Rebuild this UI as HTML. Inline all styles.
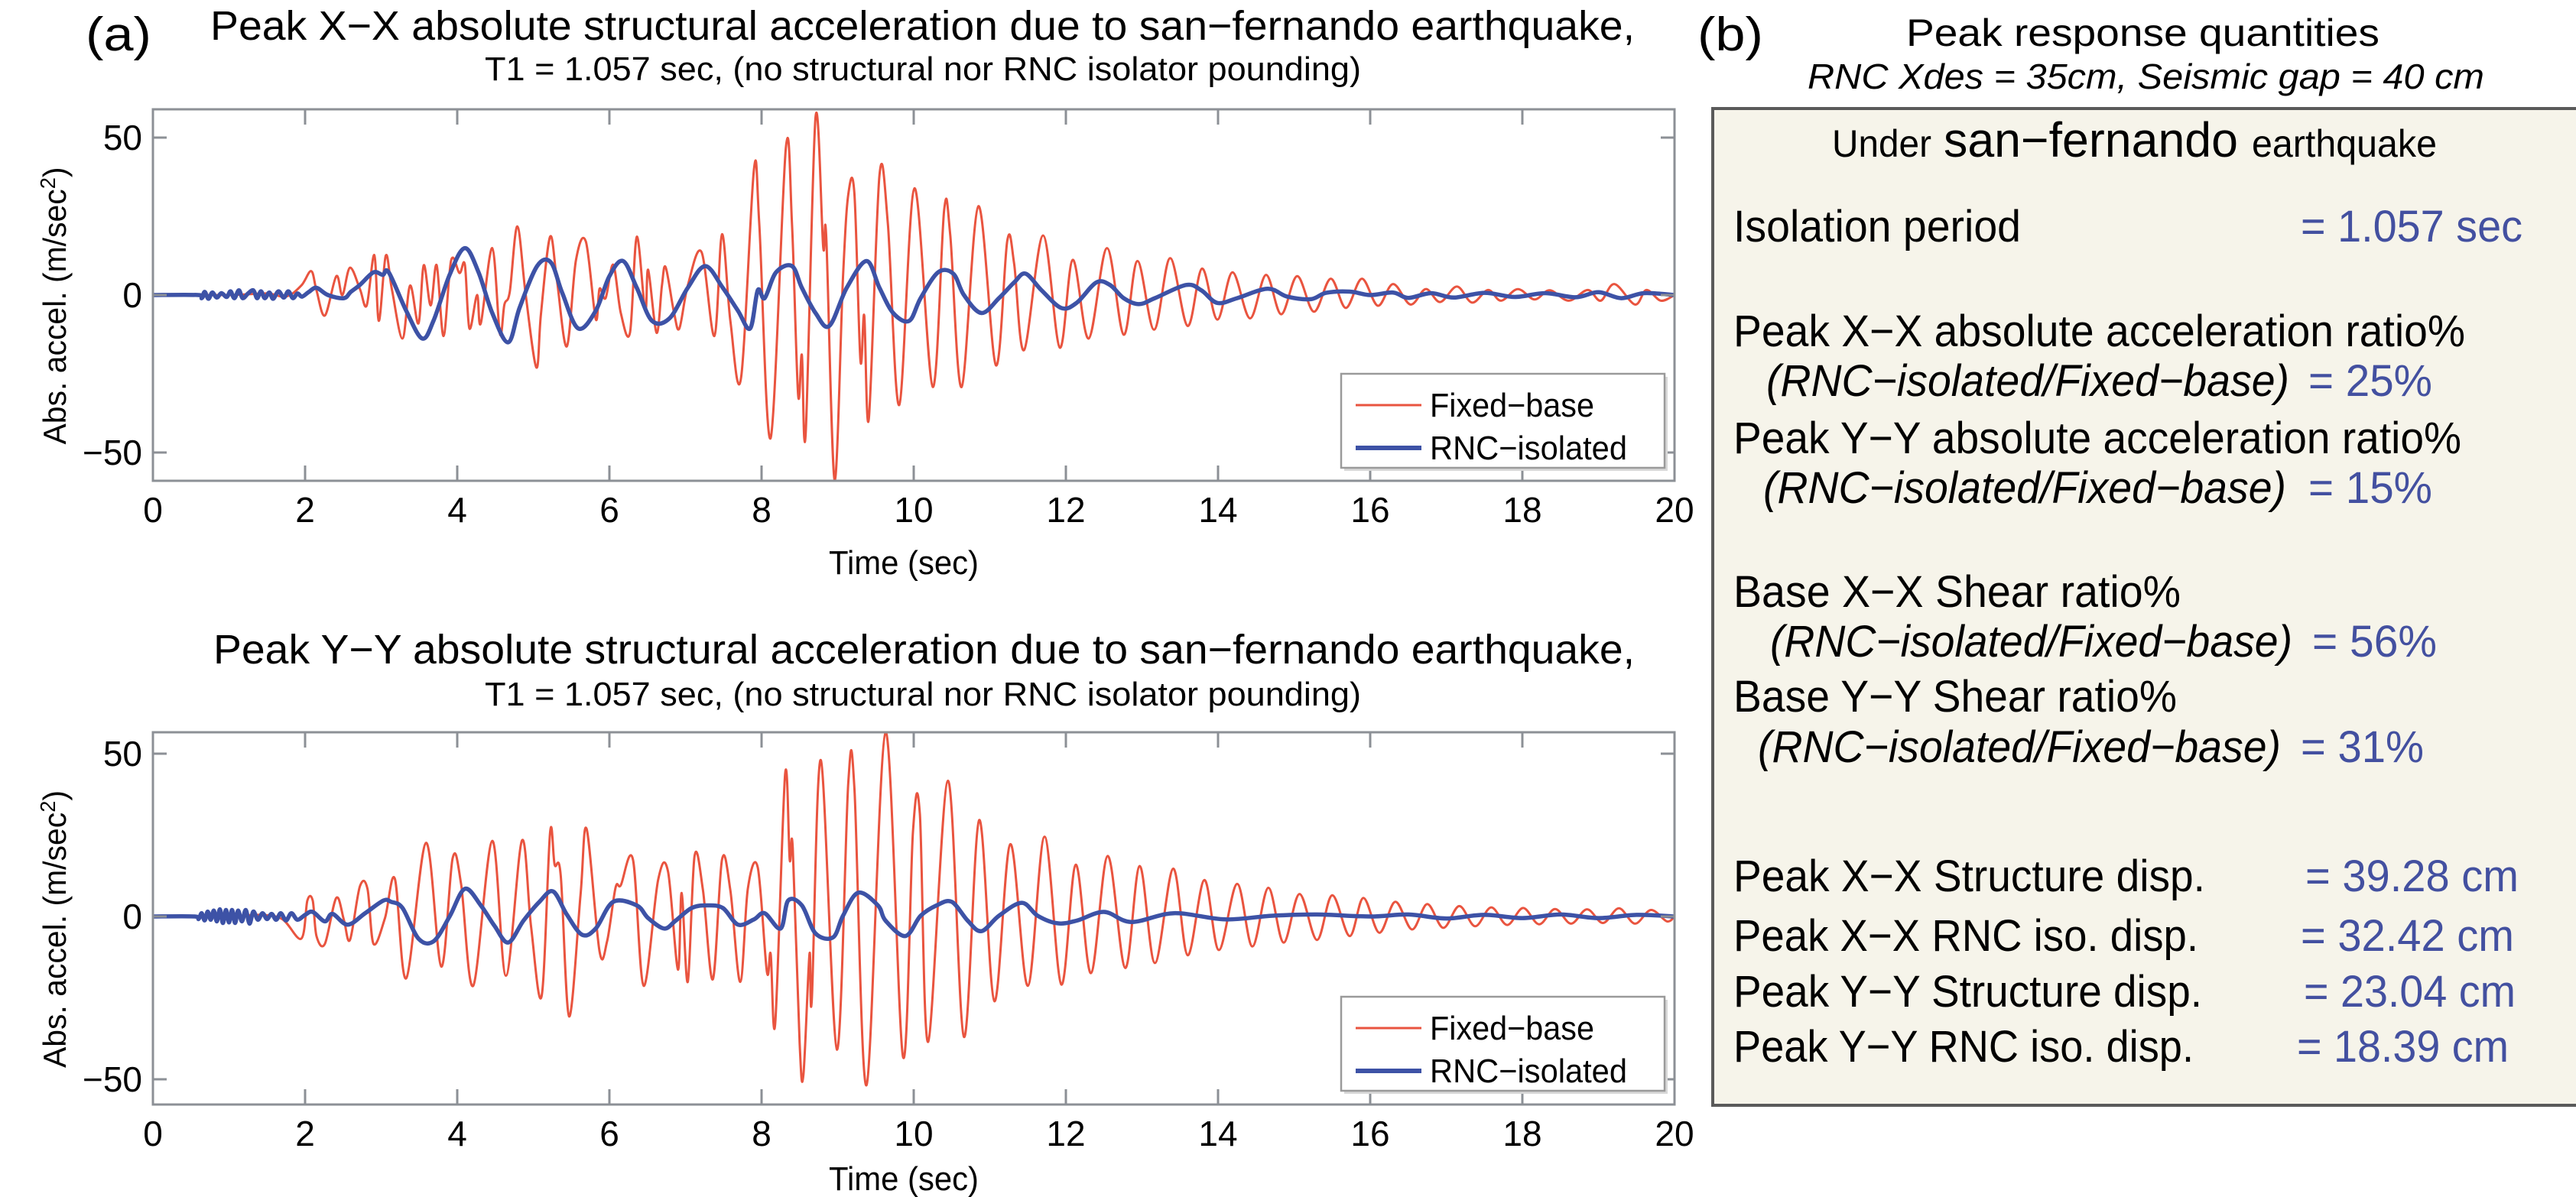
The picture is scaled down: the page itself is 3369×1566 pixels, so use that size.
<!DOCTYPE html>
<html><head><meta charset="utf-8"><style>
html,body{margin:0;padding:0;background:#fff;}
svg{display:block;font-family:"Liberation Sans",Arial,sans-serif;}
</style></head><body>
<svg id="fig" width="3369" height="1566" viewBox="0 0 3369 1566" xmlns="http://www.w3.org/2000/svg">
<defs>
<clipPath id="clipTop"><rect x="200" y="143" width="1990" height="486"/></clipPath>
<clipPath id="clipBot"><rect x="200" y="958" width="1990" height="487"/></clipPath>
</defs>
<rect width="3369" height="1566" fill="#fff"/>
<!-- Panel (a) titles -->
<text x="112" y="66" font-size="62" textLength="86" lengthAdjust="spacingAndGlyphs">(a)</text>
<text x="275" y="52" font-size="54" textLength="1863" lengthAdjust="spacingAndGlyphs">Peak X−X absolute structural acceleration due to san−fernando earthquake,</text>
<text x="634" y="105" font-size="44" textLength="1146" lengthAdjust="spacingAndGlyphs">T1 = 1.057 sec, (no structural nor RNC isolator pounding)</text>
<text x="279" y="868" font-size="54" textLength="1859" lengthAdjust="spacingAndGlyphs">Peak Y−Y absolute structural acceleration due to san−fernando earthquake,</text>
<text x="634" y="923" font-size="44" textLength="1146" lengthAdjust="spacingAndGlyphs">T1 = 1.057 sec, (no structural nor RNC isolator pounding)</text>
<g id="topChart"></g>
<g id="botChart"></g>

<!-- Panel (b) -->
<text x="2220" y="66" font-size="62" textLength="86" lengthAdjust="spacingAndGlyphs">(b)</text>
<text x="2493" y="60" font-size="50" textLength="619" lengthAdjust="spacingAndGlyphs">Peak response quantities</text>
<text x="2364" y="116" font-size="46" font-style="italic" textLength="885" lengthAdjust="spacingAndGlyphs">RNC Xdes = 35cm, Seismic gap = 40 cm</text>
<g>
<rect x="2240" y="142" width="1140" height="1304" fill="#f6f4ea" stroke="#5a5a5a" stroke-width="4"/>
<text x="2396" y="205" font-size="50" textLength="130" lengthAdjust="spacingAndGlyphs">Under</text>
<text x="2542" y="205" font-size="64" textLength="385" lengthAdjust="spacingAndGlyphs">san−fernando</text>
<text x="2945" y="205" font-size="50" textLength="242" lengthAdjust="spacingAndGlyphs">earthquake</text>
<g font-size="58">
<text x="2267" y="316" textLength="376" lengthAdjust="spacingAndGlyphs">Isolation period</text>
<text x="3009" y="316" fill="#4350a0" textLength="290" lengthAdjust="spacingAndGlyphs">= 1.057 sec</text>
<text x="2267" y="453" textLength="957" lengthAdjust="spacingAndGlyphs">Peak X−X absolute acceleration ratio%</text>
<text x="2310" y="518" font-style="italic" textLength="684" lengthAdjust="spacingAndGlyphs">(RNC−isolated/Fixed−base)</text>
<text x="3019" y="518" fill="#4350a0" textLength="162" lengthAdjust="spacingAndGlyphs">= 25%</text>
<text x="2267" y="593" textLength="952" lengthAdjust="spacingAndGlyphs">Peak Y−Y absolute acceleration ratio%</text>
<text x="2306" y="658" font-style="italic" textLength="684" lengthAdjust="spacingAndGlyphs">(RNC−isolated/Fixed−base)</text>
<text x="3019" y="658" fill="#4350a0" textLength="162" lengthAdjust="spacingAndGlyphs">= 15%</text>
<text x="2267" y="794" textLength="585" lengthAdjust="spacingAndGlyphs">Base X−X Shear ratio%</text>
<text x="2315" y="859" font-style="italic" textLength="683" lengthAdjust="spacingAndGlyphs">(RNC−isolated/Fixed−base)</text>
<text x="3024" y="859" fill="#4350a0" textLength="163" lengthAdjust="spacingAndGlyphs">= 56%</text>
<text x="2267" y="931" textLength="580" lengthAdjust="spacingAndGlyphs">Base Y−Y Shear ratio%</text>
<text x="2299" y="997" font-style="italic" textLength="684" lengthAdjust="spacingAndGlyphs">(RNC−isolated/Fixed−base)</text>
<text x="3009" y="997" fill="#4350a0" textLength="161" lengthAdjust="spacingAndGlyphs">= 31%</text>
<text x="2267" y="1166" textLength="617" lengthAdjust="spacingAndGlyphs">Peak X−X Structure disp.</text>
<text x="3015" y="1166" fill="#4350a0" textLength="279" lengthAdjust="spacingAndGlyphs">= 39.28 cm</text>
<text x="2267" y="1244" textLength="608" lengthAdjust="spacingAndGlyphs">Peak X−X RNC iso. disp.</text>
<text x="3009" y="1244" fill="#4350a0" textLength="279" lengthAdjust="spacingAndGlyphs">= 32.42 cm</text>
<text x="2267" y="1317" textLength="613" lengthAdjust="spacingAndGlyphs">Peak Y−Y Structure disp.</text>
<text x="3013" y="1317" fill="#4350a0" textLength="277" lengthAdjust="spacingAndGlyphs">= 23.04 cm</text>
<text x="2267" y="1389" textLength="602" lengthAdjust="spacingAndGlyphs">Peak Y−Y RNC iso. disp.</text>
<text x="3004" y="1389" fill="#4350a0" textLength="277" lengthAdjust="spacingAndGlyphs">= 18.39 cm</text>
</g>
</g>
</svg>
<script>
// ---- data (time in sec, acceleration in m/sec^2) ----
const xTicks = [0,2,4,6,8,10,12,14,16,18,20];
const yTicks = [-50,0,50];
const xTickLabels = ["0","2","4","6","8","10","12","14","16","18","20"];
const yTickLabels = ["\u221250","0","50"];
const legendLabels = ["Fixed\u2212base","RNC\u2212isolated"];

const topFixed = [[0,0],[1.0,0],[1.5,0.5],[1.75,-0.5],[1.95,3],[2.08,7.6],[2.15,1.5],[2.26,-6.5],[2.41,6],[2.49,0],[2.59,8.7],[2.72,2],[2.81,-3.3],[2.91,12.7],[2.97,-8.2],[3.06,12.5],[3.14,2],[3.28,-13.8],[3.38,3],[3.49,-9],[3.56,9.5],[3.65,-3.3],[3.73,9.5],[3.82,-13],[3.92,11],[4.03,7],[4.10,9.6],[4.16,-10.6],[4.26,0],[4.31,-9],[4.46,14.9],[4.56,-12.2],[4.62,-3],[4.69,1],[4.79,21.8],[4.90,0],[5.04,-23],[5.10,-6],[5.22,18.5],[5.31,4.8],[5.44,-16.3],[5.56,11],[5.69,17],[5.82,-7.6],[5.87,2],[5.95,-1],[6.05,9.6],[6.15,-5.7],[6.27,-12],[6.36,18.5],[6.47,-5],[6.51,8],[6.62,-12],[6.69,3],[6.74,8.8],[6.85,-5.7],[6.92,-10.6],[7.03,3],[7.21,13.7],[7.38,-13],[7.48,19.3],[7.59,-8.2],[7.73,-26.4],[7.90,40],[7.97,22.6],[8.12,-45.4],[8.32,46.8],[8.40,22.6],[8.48,-31.6],[8.53,-19],[8.58,-44],[8.71,56.5],[8.81,15.3],[8.85,18.5],[8.96,-58.7],[9.07,5.6],[9.14,31.9],[9.22,32.3],[9.30,-20.7],[9.35,-6.5],[9.41,-39.3],[9.55,38],[9.66,22.6],[9.81,-34.9],[10.01,33.9],[10.25,-29.2],[10.40,27],[10.48,19],[10.63,-29.2],[10.85,28.2],[11.08,-22.3],[11.23,17.3],[11.32,10],[11.45,-17.5],[11.70,18.9],[11.92,-16.7],[12.09,11.2],[12.30,-13.8],[12.54,14.9],[12.76,-12.6],[12.94,10.8],[13.16,-11],[13.37,11.7],[13.60,-9.8],[13.79,8.4],[13.99,-7.8],[14.19,7.2],[14.42,-7.4],[14.63,6.4],[14.83,-6.1],[15.04,6],[15.26,-5.3],[15.48,5.2],[15.68,-4.1],[15.89,5.2],[16.10,-3.4],[16.30,3.5],[16.53,-3],[16.73,1.9],[16.92,-2.2],[17.14,2.7],[17.34,-2.4],[17.55,1.6],[17.72,-1.8],[17.94,1.9],[18.16,-1.4],[18.36,1.5],[18.61,-1.8],[18.86,1.6],[19.03,-1.8],[19.21,3.5],[19.48,-3],[19.63,1.6],[19.82,-1.8],[20,0]];

const topIsolated = [[0,0],[0.6,0],[0.64,-1],[0.68,1],[0.73,-1.2],[0.78,0.8],[0.84,-0.8],[0.9,0.6],[0.97,-0.6],[1.02,1.2],[1.07,-1],[1.13,1.5],[1.18,-1],[1.25,0.5],[1.32,1.5],[1.37,-1],[1.42,1.2],[1.47,-1],[1.53,0.8],[1.58,-1.2],[1.65,1.2],[1.72,-0.8],[1.78,1.2],[1.84,-1],[1.9,0.5],[1.96,-0.5],[2.05,1],[2.15,2.3],[2.3,0],[2.51,-1],[2.6,1],[2.72,3.2],[2.9,7.2],[3.02,6.4],[3.1,7.2],[3.33,-5],[3.54,-13.8],[3.69,-8],[3.9,6.4],[4.10,14.9],[4.28,7.2],[4.46,-5.7],[4.67,-15],[4.82,-4],[5.05,9.2],[5.23,10.4],[5.38,0.7],[5.59,-10.6],[5.82,-5],[6.0,6],[6.18,10.8],[6.36,2.3],[6.56,-8.2],[6.79,-7.4],[7.03,2.3],[7.26,9.2],[7.49,2.3],[7.69,-5],[7.85,-10.6],[7.95,1.5],[8.04,-1],[8.19,7.2],[8.40,9.2],[8.53,2.3],[8.71,-5.7],[8.89,-9.8],[9.12,2.3],[9.38,10.8],[9.55,2.3],[9.73,-5.7],[9.94,-8.2],[10.09,-1],[10.32,7.2],[10.52,6.8],[10.66,0],[10.89,-5.7],[11.12,-1],[11.32,4],[11.47,6.8],[11.68,1.5],[11.94,-4.1],[12.14,-2.5],[12.40,4],[12.58,3.2],[12.76,-1],[12.96,-2.9],[13.17,-1],[13.58,3.2],[13.78,1.5],[13.99,-2.5],[14.25,-1],[14.65,2],[14.91,-0.5],[15.22,-1.3],[15.42,0.7],[15.73,1.1],[16.0,0],[16.3,0.8],[16.5,-0.9],[16.8,0.6],[17.1,-0.8],[17.5,0.7],[17.9,-0.6],[18.3,0.6],[18.7,-0.7],[19.0,0.9],[19.3,-1],[19.6,0.6],[20,0]];

const botFixed = [[0,0],[1.0,0],[1.4,0.5],[1.7,-0.8],[1.95,-6.8],[2.03,4.9],[2.10,4.9],[2.15,-6],[2.26,-8.4],[2.41,5.7],[2.51,-1],[2.59,-7.2],[2.72,9.2],[2.82,8.5],[2.90,-8.4],[3.05,-0.5],[3.18,11.6],[3.33,-19],[3.59,22.6],[3.79,-15.4],[3.94,17.9],[4.05,10],[4.21,-21.3],[4.46,23.2],[4.64,-18.2],[4.85,23.3],[4.97,-3],[5.11,-24.4],[5.22,25.7],[5.28,15.9],[5.36,12.7],[5.47,-30.7],[5.62,6.5],[5.70,26.9],[5.87,-10.7],[5.97,-7.6],[6.08,8.8],[6.15,9.6],[6.31,17.5],[6.45,-21.3],[6.64,11.2],[6.77,13.9],[6.90,-16.3],[6.95,7.2],[7.03,-20.1],[7.12,18.6],[7.23,8],[7.36,-19.3],[7.48,17.5],[7.59,8],[7.72,-20.1],[7.82,8.6],[7.95,15.1],[8.07,-17],[8.12,-11.5],[8.18,-32.7],[8.31,43.7],[8.37,17.5],[8.41,21],[8.50,-38.9],[8.55,-48.7],[8.63,-11.5],[8.66,-25.6],[8.78,48],[8.99,-40.9],[9.14,41],[9.22,39.5],[9.38,-51.8],[9.63,56.6],[9.86,-43.2],[9.99,26],[10.08,31.6],[10.19,-38.5],[10.45,41.7],[10.66,-37],[10.86,29.6],[11.06,-26],[11.27,22.2],[11.50,-21.3],[11.72,24.5],[11.94,-20.9],[12.13,15.9],[12.33,-17.4],[12.55,18.6],[12.78,-15.8],[12.97,15.5],[13.17,-14.3],[13.41,14.7],[13.60,-11.9],[13.82,11.2],[14.01,-10.3],[14.25,10],[14.45,-9.2],[14.66,8.8],[14.86,-8],[15.07,6.9],[15.30,-7.2],[15.50,6.5],[15.73,-6],[15.91,5.7],[16.12,-5],[16.33,4.5],[16.55,-4],[16.75,3.8],[16.96,-3.5],[17.17,3.2],[17.38,-3],[17.59,2.8],[17.80,-2.6],[18.01,2.6],[18.22,-2.4],[18.43,2.3],[18.64,-2.2],[18.85,2.2],[19.06,-2],[19.27,2.5],[19.48,-2.2],[19.69,2],[19.9,-1.5],[20,0]];

const botIsolated = [[0,0],[0.55,0],[0.6,-0.8],[0.64,1],[0.68,-1.2],[0.72,1.5],[0.76,-1],[0.8,1.8],[0.84,-1.5],[0.88,2.2],[0.92,-2],[0.96,2],[1.0,-1.8],[1.04,2],[1.08,-2],[1.12,1.8],[1.17,-1.5],[1.22,2],[1.27,-2.2],[1.32,1.5],[1.38,-1],[1.44,1],[1.5,-0.8],[1.56,0.8],[1.62,-1],[1.68,1],[1.75,-1.2],[1.82,1],[1.9,-1],[2.0,0.5],[2.10,1.4],[2.26,-1.5],[2.36,0.8],[2.56,-2.5],[2.79,1],[3.03,4.9],[3.13,4.5],[3.28,2.6],[3.49,-6.8],[3.69,-7.6],[3.9,0],[4.10,8.5],[4.31,3.4],[4.49,-2.9],[4.67,-8],[4.87,-1.3],[5.08,4.5],[5.26,7.7],[5.44,0.6],[5.64,-5.6],[5.82,-3.7],[6.05,4.5],[6.36,3.4],[6.51,-0.5],[6.72,-3.7],[6.87,-1.3],[7.08,2.6],[7.28,3.4],[7.49,2.6],[7.69,-2.5],[7.90,-0.9],[8.04,1],[8.25,-3.7],[8.35,4.9],[8.53,3.4],[8.71,-5.2],[8.94,-6.4],[9.07,0.2],[9.27,7.3],[9.53,3.4],[9.63,-1.3],[9.89,-6],[10.09,0.2],[10.30,3.4],[10.5,4.5],[10.71,-1.3],[10.89,-4.5],[11.12,0.2],[11.42,4.2],[11.63,0.2],[11.89,-2.1],[12.14,-1.3],[12.5,1.4],[12.86,-1.7],[13.42,1],[14.09,-0.9],[14.7,0.2],[15.3,0.6],[16,0],[16.5,0.6],[17,-0.6],[17.5,0.5],[18,-0.5],[18.5,0.6],[19,-0.5],[19.5,0.5],[20,0]];

const NS = "http://www.w3.org/2000/svg";
function mk(tag, attrs, parent){ const e=document.createElementNS(NS,tag); for(const k in attrs) e.setAttribute(k,attrs[k]); parent.appendChild(e); return e; }

function makeScales(cfg){
  return {
    x: t => cfg.left + (t - 0) / 20 * (cfg.right - cfg.left),
    y: v => cfg.zero - v * cfg.k
  };
}
function pathFrom(pts, sx, sy){
  const P = pts.map(p => [sx(p[0]), sy(p[1])]);
  let d = "M" + P[0][0].toFixed(1) + "," + P[0][1].toFixed(1);
  for (let i = 0; i < P.length - 1; i++){
    const p0 = P[Math.max(0,i-1)], p1 = P[i], p2 = P[i+1], p3 = P[Math.min(P.length-1,i+2)];
    const c1x = p1[0] + (p2[0]-p0[0])/6, c1y = p1[1] + (p2[1]-p0[1])/6;
    const c2x = p2[0] - (p3[0]-p1[0])/6, c2y = p2[1] - (p3[1]-p1[1])/6;
    d += "C" + c1x.toFixed(1)+","+c1y.toFixed(1)+" "+c2x.toFixed(1)+","+c2y.toFixed(1)+" "+p2[0].toFixed(1)+","+p2[1].toFixed(1);
  }
  return d;
}

function drawChart(g, cfg, fixed, isolated, prefix){
  const s = makeScales(cfg);
  const h = cfg.bottom - cfg.top;
  const plot = mk("rect",{x:cfg.left,y:cfg.top,width:cfg.right-cfg.left,height:h,fill:"#fff"},g);
  
  
  const lines = mk("g",{"clip-path":"url(#"+cfg.clip+")"},g);
  const red = mk("path",{d:pathFrom(fixed,s.x,s.y),fill:"none",stroke:"#e9543f","stroke-width":3,"stroke-linejoin":"round"},lines);
  
  
  const blue = mk("path",{d:pathFrom(isolated,s.x,s.y),fill:"none",stroke:"#3d52a6","stroke-width":5.5,"stroke-linejoin":"round"},lines);
  
  
  const frame = mk("rect",{x:cfg.left,y:cfg.top,width:cfg.right-cfg.left,height:h,fill:"none",stroke:"#8c9096","stroke-width":3},g);
  
  
  xTicks.forEach((t,i) => {
    const x = s.x(t);
    mk("line",{x1:x,y1:cfg.top,x2:x,y2:cfg.top+20,stroke:"#8c9096","stroke-width":3},g);
    mk("line",{x1:x,y1:cfg.bottom,x2:x,y2:cfg.bottom-20,stroke:"#8c9096","stroke-width":3},g);
    const lab = mk("text",{x:x,y:cfg.bottom+54,"font-size":46,"text-anchor":"middle"},g);
    lab.textContent = xTickLabels[i];
    
    
  });
  yTicks.forEach((v,i) => {
    const y = s.y(v);
    mk("line",{x1:cfg.left,y1:y,x2:cfg.left+18,y2:y,stroke:"#8c9096","stroke-width":3},g);
    mk("line",{x1:cfg.right,y1:y,x2:cfg.right-18,y2:y,stroke:"#8c9096","stroke-width":3},g);
    const lab = mk("text",{x:cfg.left-14,y:y+16,"font-size":46,"text-anchor":"end"},g);
    lab.textContent = yTickLabels[i];
    
    
  });
  const xt = mk("text",{x:1182,y:cfg.bottom+cfg.xTitleOff,"font-size":44,"text-anchor":"middle",textLength:196,lengthAdjust:"spacingAndGlyphs"},g);
  xt.textContent = "Time (sec)";
  
  
  const cy = (cfg.top + cfg.bottom)/2 + 14;
  const yt = mk("text",{x:0,y:0,"font-size":42,"text-anchor":"middle",transform:"translate(86,"+cy+") rotate(-90)",textLength:363,lengthAdjust:"spacingAndGlyphs"},g);
  yt.textContent = "Abs. accel. (m/sec";
  const sup = mk("tspan",{dy:-14,"font-size":28},yt); sup.textContent = "2";
  const cl = mk("tspan",{dy:14},yt); cl.textContent = ")";
  
  
  // legend
  const lg = mk("g",{},g);
  
  
  const ly = cfg.legendTop;
  mk("rect",{x:1758,y:ly+4,width:423,height:123,fill:"#d8d8d8"},lg);
  mk("rect",{x:1754,y:ly,width:423,height:123,fill:"#fff",stroke:"#9a9a9a","stroke-width":2.5},lg);
  const cols = ["#e9543f","#3d52a6"], wid = [3,6];
  legendLabels.forEach((L,i) => {
    const yy = ly + 41 + i*56;
    const ln = mk("line",{x1:1773,y1:yy,x2:1859,y2:yy,stroke:cols[i],"stroke-width":wid[i]},lg);
    
    
    const tx = mk("text",{x:1870,y:yy+15,"font-size":44,textLength:(i?258:215),lengthAdjust:"spacingAndGlyphs"},lg);
    tx.textContent = L;
    
    
  });
}

drawChart(document.getElementById("topChart"),
  {left:200,right:2190,top:143,bottom:629,zero:386,k:4.12,clip:"clipTop",legendTop:489,xTitleOff:122},
  topFixed, topIsolated, "top");
drawChart(document.getElementById("botChart"),
  {left:200,right:2190,top:958,bottom:1445,zero:1199,k:4.26,clip:"clipBot",legendTop:1304,xTitleOff:112},
  botFixed, botIsolated, "bottom");
</script>
</body></html>
